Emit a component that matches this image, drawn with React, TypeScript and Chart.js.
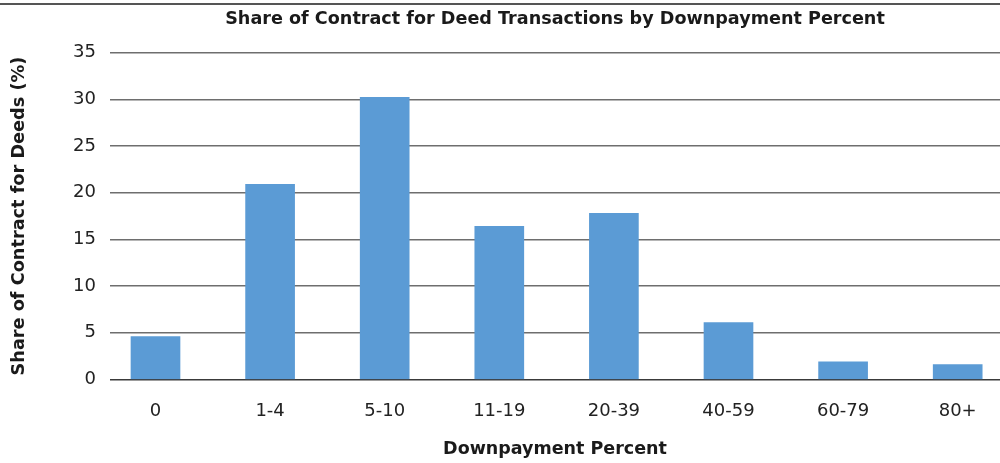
import React, { useEffect, useRef } from "react";
import { Chart, registerables } from "chart.js";

Chart.register(...registerables);

const categories = ["0", "1-4", "5-10", "11-19", "20-39", "40-59", "60-79", "80+"];
const shareValues = [4.6, 20.9, 30.2, 16.4, 17.8, 6.1, 1.9, 1.6];
const yTicks = [0, 5, 10, 15, 20, 25, 30, 35];

const chartTitle = "Share of Contract for Deed Transactions by Downpayment Percent";
const xTitle = "Downpayment Percent";
const yTitle = "Share of Contract for Deeds (%)";

const FONT = "'DejaVu Sans', 'Liberation Sans', Arial, sans-serif";

export default function App() {
  const ref = useRef<HTMLCanvasElement | null>(null);

  useEffect(() => {
    document.body.style.overflow = "hidden";
    const canvas = ref.current;
    if (!canvas) return;
    const chart = new Chart(canvas, {
      type: "bar",
      data: {
        datasets: [
          {
            label: "Share",
            data: shareValues.map((v, i) => ({ x: i, y: v })),
            backgroundColor: "#5b9bd5",
            borderWidth: 0,
            barThickness: 49,
          },
        ],
      },
      options: {
        responsive: false,
        animation: false,
        devicePixelRatio: 1,
        layout: { padding: 0 },
        plugins: {
          legend: { display: false },
          tooltip: { enabled: false },
          title: {
            display: true,
            text: chartTitle,
            color: "#1a1a1a",
            font: { family: FONT, size: 17.6, weight: "bold", lineHeight: 1.2 },
            padding: { top: 8.5, bottom: 23 },
          },
          subtitle: {
            display: true,
            position: "bottom",
            text: xTitle,
            color: "#1a1a1a",
            font: { family: FONT, size: 17.5, weight: "bold", lineHeight: 1.2 },
            padding: { top: 15, bottom: 3.5 },
          },
        },
        scales: {
          x: {
            type: "linear",
            offset: false,
            min: -0.397,
            max: 8.329,
            grid: { display: false, drawTicks: false },
            border: { display: false },
            afterBuildTicks: (scale: any) => {
              scale.ticks = categories.map((_, i) => ({ value: i }));
            },
            afterFit: (scale: any) => {
              scale.height = 44;
            },
            ticks: {
              padding: 21.5,
              color: "#222",
              maxRotation: 0,
              autoSkip: false,
              font: { family: FONT, size: 18 },
              callback: (v: any) => categories[v as number] ?? "",
            },
          },
          y: {
            min: 0,
            max: 35,
            afterBuildTicks: (scale: any) => {
              scale.ticks = yTicks.map((v) => ({ value: v }));
            },
            afterFit: (scale: any) => {
              scale.width = 110;
            },
            grid: {
              drawTicks: false,
              color: (ctx: any) => (ctx.tick && ctx.tick.value === 0 ? "#3a3a3a" : "#6e6e6e"),
              lineWidth: 1.4,
            },
            border: { display: false },
            ticks: {
              padding: 14,
              color: "#222",
              font: { family: FONT, size: 18 },
            },
            title: {
              display: true,
              text: yTitle,
              color: "#1a1a1a",
              font: { family: FONT, size: 17.7, weight: "bold" },
              padding: { top: 8.5, bottom: 4 },
            },
          },
        },
      },
    });
    return () => chart.destroy();
  }, []);

  return (
    <div style={{ position: "fixed", left: 0, top: 0, width: 1110, height: 463, background: "#fff" }}>
      <div style={{ position: "absolute", left: 0, top: 3, width: 1000, height: 2, background: "#555" }} />
      <canvas ref={ref} width={1110} height={463} style={{ width: 1110, height: 463, display: "block" }} />
    </div>
  );
}
